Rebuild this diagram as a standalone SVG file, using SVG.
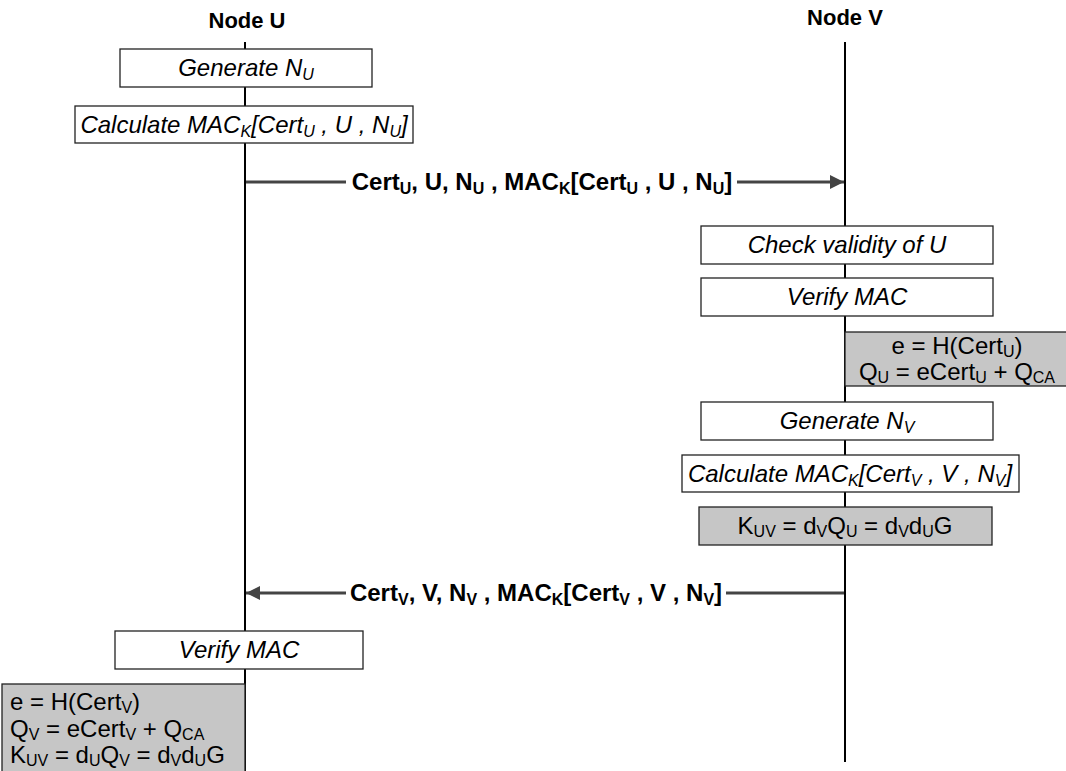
<svg xmlns="http://www.w3.org/2000/svg" width="1066" height="771" viewBox="0 0 1066 771">
<style>
text{font-family:"Liberation Sans",Arial,Helvetica,sans-serif;font-size:24px;fill:#000}
.hd{font-weight:bold;font-size:22px;text-anchor:middle}
.it{font-style:italic;text-anchor:middle}
.lbl{font-weight:bold;text-anchor:middle}
.eq{font-size:23px}
.s{font-size:16px;baseline-shift:-4px}
.eq .s{font-size:16px;baseline-shift:-3px}
.box{fill:#fff;stroke:#222;stroke-width:1.3}
.gray{fill:#c6c6c6;stroke:#222;stroke-width:1.3}
.life{stroke:#000;stroke-width:2;fill:none}
.msg{stroke:#444;stroke-width:3;fill:none}
</style>
<defs>
<marker id="ah" markerWidth="14" markerHeight="14" refX="14" refY="7" orient="auto" markerUnits="userSpaceOnUse">
<path d="M0,0 L14,7 L0,14 z" fill="#444"/>
</marker>
</defs>
<g id="lifelines">
<line class="life" x1="245" y1="42" x2="245" y2="771"/>
<line class="life" x1="845" y1="42" x2="845" y2="762"/>
</g>
<g id="nodeU"><text class="hd" x="247" y="28">Node U</text></g>
<g id="nodeV"><text class="hd" x="845" y="25">Node V</text></g>
<g id="genNU">
<rect class="box" x="120" y="49" width="252" height="38"/>
<text class="it" x="246" y="76">Generate N<tspan class="s">U</tspan></text>
</g>
<g id="calcMacU">
<rect class="box" x="75" y="106" width="338" height="37"/>
<text class="it" x="244" y="133">Calculate MAC<tspan class="s">K</tspan><tspan>[Cert</tspan><tspan class="s">U</tspan><tspan> , U , N</tspan><tspan class="s">U</tspan><tspan>]</tspan></text>
</g>
<g id="checkU">
<rect class="box" x="701" y="226" width="292" height="38"/>
<text class="it" x="847" y="253">Check validity of U</text>
</g>
<g id="verifyV">
<rect class="box" x="701" y="278" width="292" height="38"/>
<text class="it" x="847" y="305">Verify MAC</text>
</g>
<g id="computeQU" class="eq">
<rect class="gray" x="845" y="332" width="230" height="54"/>
<text x="957" y="354" text-anchor="middle">e = H(Cert<tspan class="s">U</tspan><tspan>)</tspan></text>
<text x="957" y="380" text-anchor="middle">Q<tspan class="s">U</tspan><tspan> = eCert</tspan><tspan class="s">U</tspan><tspan> + Q</tspan><tspan class="s">CA</tspan></text>
</g>
<g id="genNV">
<rect class="box" x="701" y="402" width="292" height="38"/>
<text class="it" x="847" y="429">Generate N<tspan class="s">V</tspan></text>
</g>
<g id="calcMacV">
<rect class="box" x="682" y="455" width="337" height="37"/>
<text class="it" x="850" y="482">Calculate MAC<tspan class="s">K</tspan><tspan>[Cert</tspan><tspan class="s">V</tspan><tspan> , V , N</tspan><tspan class="s">V</tspan><tspan>]</tspan></text>
</g>
<g id="keyV" class="eq">
<rect class="gray" x="699" y="507" width="293" height="38"/>
<text x="845" y="534" text-anchor="middle">K<tspan class="s">UV</tspan><tspan> = d</tspan><tspan class="s">V</tspan><tspan>Q</tspan><tspan class="s">U</tspan><tspan> = d</tspan><tspan class="s">V</tspan><tspan>d</tspan><tspan class="s">U</tspan><tspan>G</tspan></text>
</g>
<g id="verifyU">
<rect class="box" x="115" y="631" width="248" height="38"/>
<text class="it" x="239" y="658">Verify MAC</text>
</g>
<g id="keyU" class="eq">
<rect class="gray" x="2" y="684" width="243" height="92"/>
<text x="10" y="710">e = H(Cert<tspan class="s">V</tspan><tspan>)</tspan></text>
<text x="10" y="737">Q<tspan class="s">V</tspan><tspan> = eCert</tspan><tspan class="s">V</tspan><tspan> + Q</tspan><tspan class="s">CA</tspan></text>
<text x="10" y="763">K<tspan class="s">UV</tspan><tspan> = d</tspan><tspan class="s">U</tspan><tspan>Q</tspan><tspan class="s">V</tspan><tspan> = d</tspan><tspan class="s">V</tspan><tspan>d</tspan><tspan class="s">U</tspan><tspan>G</tspan></text>
</g>
<g id="connectors">
<line class="msg" x1="246" y1="182" x2="346" y2="182"/>
<line class="msg" x1="737" y1="182" x2="844" y2="182" marker-end="url(#ah)"/>
<text class="lbl" x="542" y="190">Cert<tspan class="s">U</tspan><tspan>, U, N</tspan><tspan class="s">U</tspan><tspan> , MAC</tspan><tspan class="s">K</tspan><tspan>[Cert</tspan><tspan class="s">U</tspan><tspan>  , U , N</tspan><tspan class="s">U</tspan><tspan>]</tspan></text>
<line class="msg" x1="844" y1="593" x2="726" y2="593"/>
<line class="msg" x1="346" y1="593" x2="246" y2="593" marker-end="url(#ah)"/>
<text class="lbl" x="536" y="601">Cert<tspan class="s">V</tspan><tspan>, V, N</tspan><tspan class="s">V</tspan><tspan> , MAC</tspan><tspan class="s">K</tspan><tspan>[Cert</tspan><tspan class="s">V</tspan><tspan> , V , N</tspan><tspan class="s">V</tspan><tspan>]</tspan></text>
</g>
</svg>
